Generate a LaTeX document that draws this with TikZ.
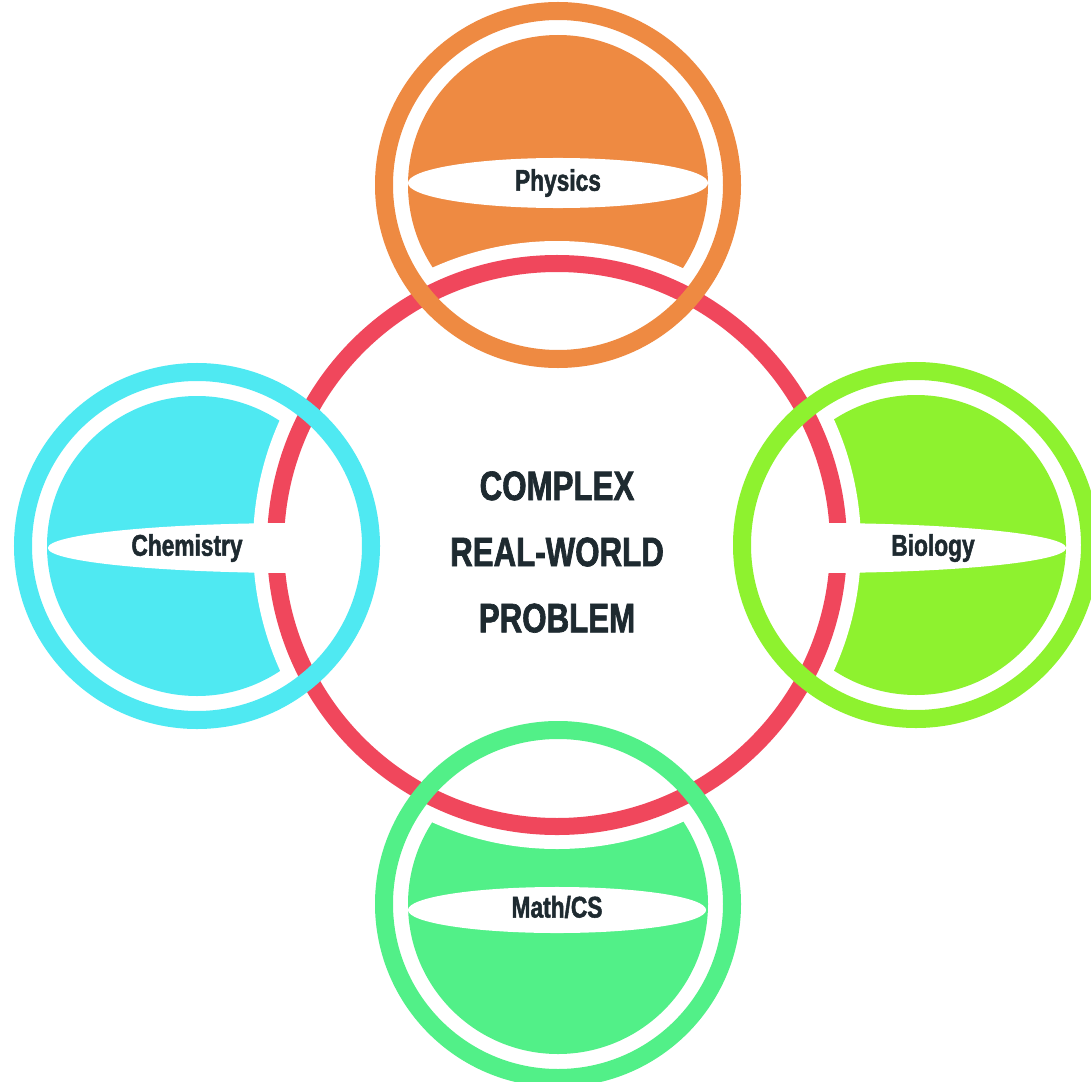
\documentclass[tikz,border=0pt]{standalone}
\usepackage{fontspec}
\setmainfont{Liberation Sans}
\newfontfamily\condfont[FakeStretch=0.76,FakeBold=1.6]{Liberation Sans}
\usetikzlibrary{shapes.geometric}

\definecolor{phys}{HTML}{EE8A42}
\definecolor{chem}{HTML}{4FE9F2}
\definecolor{bio}{HTML}{8EF22F}
\definecolor{mathcs}{HTML}{52F088}
\definecolor{hub}{HTML}{F0475C}
\definecolor{ink}{HTML}{1E2A30}

\begin{document}
\begin{tikzpicture}[x=0.01cm,y=-0.01cm,
  band/.style={ellipse,fill=white,inner sep=0pt},
  hoop/.style={draw=#1,line width=0.18cm},
  subject/.style={font=\condfont\bfseries\fontsize{8.5}{10}\selectfont,text=ink}]
\useasboundingbox (0,0) rectangle (1091,1082);
\coordinate (O) at (557,545);
\coordinate (P) at (558,185); \coordinate (C) at (197,546);
\coordinate (B) at (916,545); \coordinate (M) at (558,904);

\fill[phys] (P) circle[radius=150]; \fill[chem] (C) circle[radius=150];
\fill[bio] (B) circle[radius=150]; \fill[mathcs] (M) circle[radius=150];
\fill[white] (O) circle[radius=304];
\draw[hub,line width=0.17cm] (O) circle[radius=281.5];

\node[band,minimum width=3cm,minimum height=0.5cm] (physband) at (558,183) {};
\node[band,minimum width=2.98cm,minimum height=0.46cm] (mathband) at (557,910) {};
\node[band,minimum width=5.04cm,minimum height=0.5cm] (chemband) at (300,548) {};
\node[band,minimum width=5.04cm,minimum height=0.5cm] (bioband) at (814,548) {};

\draw[hoop=phys] (P) circle[radius=174]; \draw[hoop=chem] (C) circle[radius=174];
\draw[hoop=bio] (B) circle[radius=174]; \draw[hoop=mathcs] (M) circle[radius=174];

\node[subject] (physics) at (558,183) {Physics};
\node[subject] (chemistry) at (187,548) {Chemistry};
\node[subject] (biology) at (933,548) {Biology};
\node[subject] (math) at (557,907) {Math/CS};
\node[align=center,text=ink,font=\condfont\bfseries\fontsize{11.7}{18.8}\selectfont] (problem) at (557,552) {COMPLEX\\REAL-WORLD\\PROBLEM};
\end{tikzpicture}
\end{document}
